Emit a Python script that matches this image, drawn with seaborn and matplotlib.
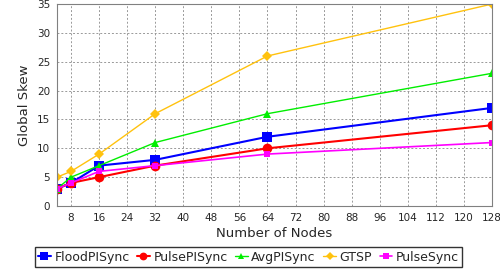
import matplotlib
matplotlib.use('Agg')
from matplotlib import pyplot as plt
import numpy as np
import pandas as pd
import seaborn as sns

nodes = [4, 8, 16, 32, 64, 128]
flood_pisync = [3, 4, 7, 8, 12, 17]
pulse_pisync = [3, 4, 5, 7, 10, 14]
avg_pisync = [3, 5, 7, 11, 16, 23]
gtsp = [5, 6, 9, 16, 26, 35]
pulsesync = [3, 4, 6, 7, 9, 11]

names = ['FloodPISync', 'PulsePISync', 'AvgPISync', 'GTSP', 'PulseSync']
series = [flood_pisync, pulse_pisync, avg_pisync, gtsp, pulsesync]
colors = ['#0000ff', '#ff0000', '#00ee00', '#ffc20e', '#ff00ff']
markers = ['s', 'o', '^', 'D', 's']
msizes = [7, 7, 6, 5, 5]
lwidths = [1.5, 1.5, 1.0, 1.0, 1.2]

df = pd.DataFrame({'nodes': nodes * len(names),
                   'skew': sum(series, []),
                   'algo': np.repeat(names, len(nodes))})

sns.set_style('white')
plt.rcParams['font.family'] = ['DejaVu Sans']

fig = plt.figure(figsize=(5, 2.7), dpi=100)
ax = fig.add_axes([0.114, 0.237, 0.870, 0.748])

for name, c, m, ms, lw in zip(names, colors, markers, msizes, lwidths):
    sns.lineplot(data=df[df.algo == name], x='nodes', y='skew', ax=ax,
                 color=c, marker=m, markersize=ms, markeredgewidth=0,
                 linewidth=lw, label=name, legend=False)

ax.set_xlim(4, 128)
ax.set_ylim(0, 35)
ax.set_xticks(np.arange(8, 129, 8))
ax.set_yticks(np.arange(0, 36, 5))
ax.tick_params(labelsize=7.5, length=3, color='#808080', pad=2)
ax.grid(True, color='#999999', linestyle=(0, (2, 2)), linewidth=0.7)
for s in ax.spines.values():
    s.set_color('#808080')
    s.set_linewidth(0.8)
ax.set_xlabel('Number of Nodes', fontsize=9.5, labelpad=3)
ax.set_ylabel('Global Skew', fontsize=9.5, labelpad=4)

h, l = ax.get_legend_handles_labels()
leg = fig.legend(h, l, loc='center', bbox_to_anchor=(0.497, 0.048), ncol=5,
                 fontsize=9, frameon=True, fancybox=False, edgecolor='black',
                 handlelength=1.0, handletextpad=0.3, columnspacing=0.6,
                 borderpad=0.25, borderaxespad=0, markerscale=0.8)
leg.get_frame().set_linewidth(1.0)

fig.savefig('out.png', dpi=100)
